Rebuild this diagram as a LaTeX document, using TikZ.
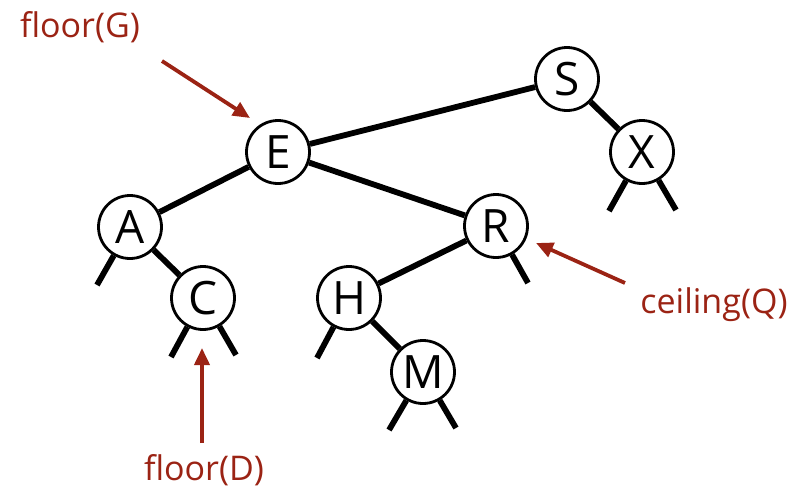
\documentclass[tikz,border=0pt]{standalone}
\usepackage{fontspec}
\setmainfont{Open Sans}
\usetikzlibrary{arrows.meta}
\definecolor{lab}{RGB}{155,35,20}
\begin{document}
\begin{tikzpicture}[x=1pt,y=-1pt,
  tnode/.style={circle,draw=black,line width=2.8pt,fill=white,minimum size=63pt,inner sep=0pt,font=\fontsize{46}{46}\selectfont},
  link/.style={line width=5.8pt,black},
  ann/.style={lab,line width=3.8pt,-{Triangle[length=17pt,width=15pt]}},
  lbl/.style={lab,font=\fontsize{34}{34}\selectfont}]
\useasboundingbox (0,0) rectangle (803,499);
% null-link ends
\coordinate (xl) at (609,211);
\coordinate (xr) at (676,210);
\coordinate (al) at (97,285);
\coordinate (cl) at (171,357);
\coordinate (cr) at (236,355);
\coordinate (rr) at (528,283);
\coordinate (hl) at (317,358);
\coordinate (ml) at (389,430);
\coordinate (mr) at (456,428);
% nodes
\node[tnode] (S) at (567,79) {S};
\node[tnode] (X) at (642,152) {X};
\node[tnode] (E) at (278,152) {E};
\node[tnode] (A) at (130,227) {A};
\node[tnode] (R) at (496,226) {R};
\node[tnode] (C) at (203,298) {C};
\node[tnode] (H) at (349,298) {H};
\node[tnode] (M) at (423,372) {M};
% links
\draw[link] (S) -- (E);
\draw[link] (S) -- (X);
\draw[link] (E) -- (A);
\draw[link] (E) -- (R);
\draw[link] (A) -- (C);
\draw[link] (R) -- (H);
\draw[link] (H) -- (M);
\draw[link] (X) -- (xl);
\draw[link] (X) -- (xr);
\draw[link] (A) -- (al);
\draw[link] (C) -- (cl);
\draw[link] (C) -- (cr);
\draw[link] (R) -- (rr);
\draw[link] (H) -- (hl);
\draw[link] (M) -- (ml);
\draw[link] (M) -- (mr);
% annotations
\node[lbl,anchor=base] (fG) at (80,37) {floor(G)};
\node[lbl,anchor=base] (cQ) at (714,313) {ceiling(Q)};
\node[lbl,anchor=base] (fD) at (204,480) {floor(D)};
\coordinate (fGt) at (162,61);
\coordinate (fGh) at (250,118);
\coordinate (cQt) at (625,283);
\coordinate (cQh) at (536,243);
\coordinate (fDt) at (202,443);
\coordinate (fDh) at (202,348);
\draw[ann] (fGt) -- (fGh);
\draw[ann] (cQt) -- (cQh);
\draw[ann] (fDt) -- (fDh);
\end{tikzpicture}
\end{document}
